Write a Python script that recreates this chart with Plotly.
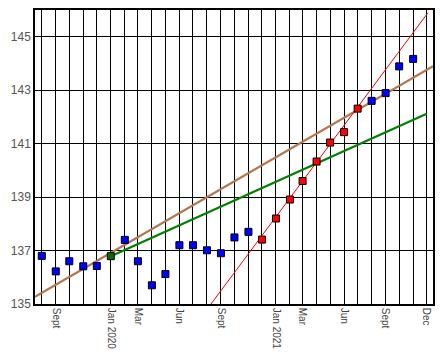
import plotly.graph_objects as go

# Monthly observations
months = ["2019-08-01", "2019-09-01", "2019-10-01", "2019-11-01", "2019-12-01",
          "2020-01-01", "2020-02-01", "2020-03-01", "2020-04-01", "2020-05-01",
          "2020-06-01", "2020-07-01", "2020-08-01", "2020-09-01", "2020-10-01",
          "2020-11-01", "2020-12-01", "2021-01-01", "2021-02-01", "2021-03-01",
          "2021-04-01", "2021-05-01", "2021-06-01", "2021-07-01", "2021-08-01",
          "2021-09-01", "2021-10-01", "2021-11-01"]
values = [136.80, 136.22, 136.60, 136.41, 136.42,
          136.79, 137.40, 136.60, 135.70, 136.12,
          137.20, 137.20, 137.01, 136.90, 137.49,
          137.70, 137.41, 138.20, 138.91, 139.60,
          140.33, 141.04, 141.43, 142.31, 142.60,
          142.89, 143.89, 144.17]
groups = ["blue"] * 5 + ["green"] + ["blue"] * 10 + ["red"] * 8 + ["blue"] * 4

# Trend lines (endpoints)
brown_x = ["2019-07-17", "2021-12-15"]
brown_y = [135.27, 143.90]
green_x = ["2020-01-01", "2021-12-01"]
green_y = [136.79, 142.12]
red_x = ["2020-08-10", "2021-12-04"]
red_y = [135.00, 145.90]

# Axis ticks
tick_dates = ["2019-08-01", "2019-09-01", "2019-10-01", "2019-11-01", "2019-12-01",
              "2020-01-01", "2020-02-01", "2020-03-01", "2020-04-01", "2020-05-01",
              "2020-06-01", "2020-07-01", "2020-08-01", "2020-09-01", "2020-10-01",
              "2020-11-01", "2020-12-01", "2021-01-01", "2021-02-01", "2021-03-01",
              "2021-04-01", "2021-05-01", "2021-06-01", "2021-07-01", "2021-08-01",
              "2021-09-01", "2021-10-01", "2021-11-01", "2021-12-01"]
tick_labels = ["", "Sept", "", "", "", "Jan 2020", "", "Mar", "", "", "Jun", "", "",
               "Sept", "", "", "", "Jan 2021", "", "Mar", "", "", "Jun", "", "",
               "Sept", "", "", "Dec"]
y_ticks = [135, 137, 139, 141, 143, 145]

color_map = {"blue": "#0000ff", "green": "#0a6a0a", "red": "#ff0000"}

fig = go.Figure()
fig.add_trace(go.Scatter(x=brown_x, y=brown_y, mode="lines",
                         line=dict(color="#b3774f", width=2.2), showlegend=False))
fig.add_trace(go.Scatter(x=green_x, y=green_y, mode="lines",
                         line=dict(color="#008000", width=2.2), showlegend=False))
fig.add_trace(go.Scatter(x=red_x, y=red_y, mode="lines",
                         line=dict(color="#ff0000", width=1), showlegend=False))
fig.add_trace(go.Scatter(
    x=months, y=values, mode="markers",
    marker=dict(symbol="square", size=7, color=[color_map[g] for g in groups],
                line=dict(color="black", width=1)),
    showlegend=False))

fig.update_layout(
    width=437, height=350,
    margin=dict(l=27, r=12, t=2, b=54, pad=0),
    paper_bgcolor="white", plot_bgcolor="white",
    font=dict(family="Liberation Sans, Arial, sans-serif"),
)
fig.update_xaxes(
    range=["2019-07-17", "2021-12-15"],
    tickmode="array", tickvals=tick_dates, ticktext=tick_labels,
    tickangle=90, tickfont=dict(size=10, color="#444444"),
    showgrid=True, gridcolor="black", gridwidth=1.2,
    showline=True, linecolor="black", linewidth=1.5, mirror=True,
    ticks="", zeroline=False, automargin=False,
)
fig.update_yaxes(
    range=[135, 146],
    tickmode="array", tickvals=y_ticks,
    tickfont=dict(size=12, color="#555555"),
    showgrid=True, gridcolor="black", gridwidth=1.2,
    showline=True, linecolor="black", linewidth=1.5, mirror=True,
    ticks="", zeroline=False, automargin=False,
)

fig.write_html("out.html")
